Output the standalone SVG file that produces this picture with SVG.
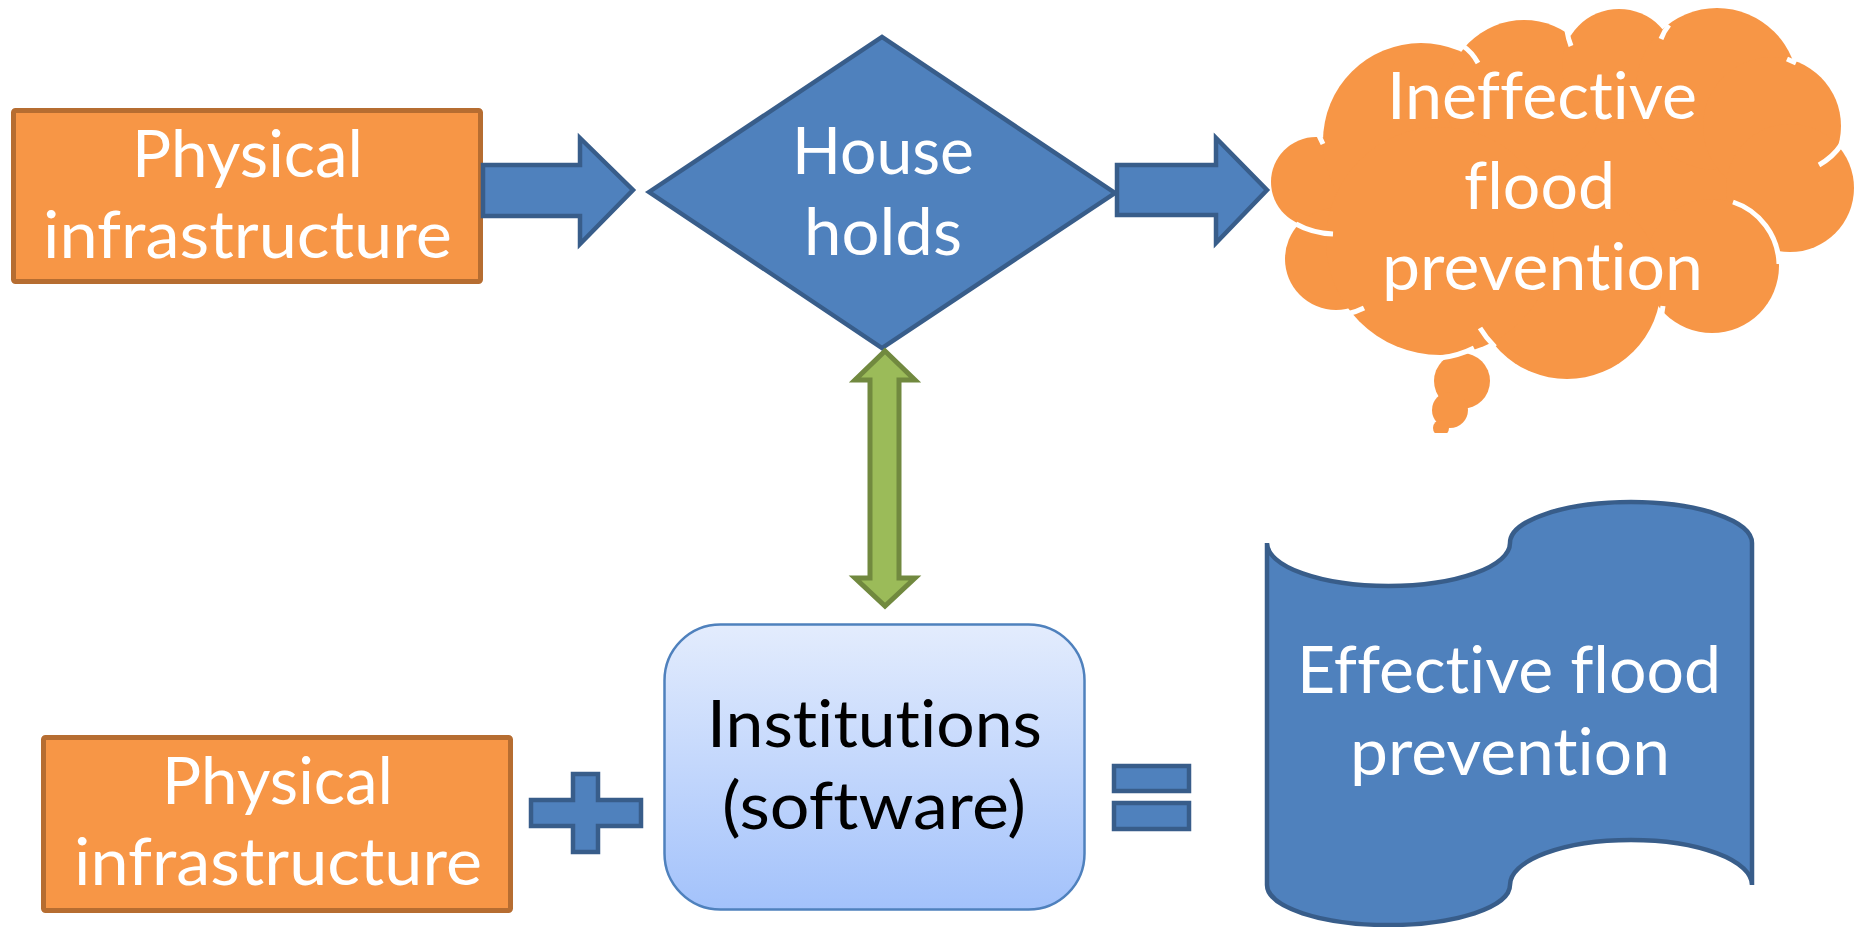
<svg xmlns="http://www.w3.org/2000/svg" width="1858" height="927" viewBox="0 0 1858 927">
  <defs>
    <style>
      .lbl { font-family: Lato, "Liberation Sans", sans-serif; font-size: 65px; fill: #FFFFFF; font-variant-ligatures: none; font-feature-settings: "liga" 0, "clig" 0, "dlig" 0; }
      .dark { fill: #000000; }
      .orangeBox { fill: #F79646; stroke: #B66D31; stroke-width: 5; }
      .blueShape { fill: #4F81BD; stroke: #385D8A; stroke-width: 4.5; stroke-linejoin: miter; }
      .greenShape { fill: #9BBB59; stroke: #71893F; stroke-width: 5; stroke-linejoin: miter; }
      .lobe { fill: #F79646; stroke: none; }
      .crease { fill: none; stroke: #FFFFFF; stroke-width: 5; stroke-linecap: butt; }
    </style>
    <linearGradient id="instGrad" x1="0" y1="0" x2="0" y2="1">
      <stop offset="0" stop-color="#E3ECFD"/>
      <stop offset="1" stop-color="#A3C2FB"/>
    </linearGradient>
    <clipPath id="bubbleClip">
      <rect x="1400" y="330" width="120" height="103"/>
    </clipPath>
  </defs>

  <!-- Node: Physical infrastructure (top) -->
  <g id="physical-top">
    <rect class="orangeBox" x="13.5" y="110.5" width="467" height="171" rx="2"/>
    <text class="lbl" x="132" y="177" textLength="231" lengthAdjust="spacingAndGlyphs">Physical</text>
    <text class="lbl" x="43" y="258" textLength="409" lengthAdjust="spacingAndGlyphs">infrastructure</text>
  </g>

  <!-- Node: Households (diamond) -->
  <g id="households">
    <polygon class="blueShape" points="649,192 882,37 1115,193 882,348"/>
    <text class="lbl" x="792" y="174" textLength="182" lengthAdjust="spacingAndGlyphs">House</text>
    <text class="lbl" x="804" y="255" textLength="158" lengthAdjust="spacingAndGlyphs">holds</text>
  </g>

  <!-- Node: Ineffective flood prevention (cloud) -->
  <g id="ineffective-cloud">
    <ellipse class="lobe" cx="1570" cy="190" rx="220" ry="120"/>
    <circle class="lobe" cx="1316" cy="182" r="45"/>
    <circle class="lobe" cx="1336" cy="259" r="51"/>
    <circle class="lobe" cx="1421" cy="141" r="98"/>
    <circle class="lobe" cx="1524" cy="98" r="78"/>
    <circle class="lobe" cx="1619" cy="66" r="57"/>
    <circle class="lobe" cx="1717" cy="89" r="81"/>
    <circle class="lobe" cx="1772" cy="126" r="69"/>
    <circle class="lobe" cx="1790" cy="188" r="64"/>
    <circle class="lobe" cx="1712" cy="266" r="67"/>
    <circle class="lobe" cx="1567" cy="285" r="94"/>
    <circle class="lobe" cx="1440" cy="241" r="114"/>
    <g clip-path="url(#bubbleClip)">
      <circle class="lobe" cx="1462" cy="381" r="28"/>
      <circle class="lobe" cx="1450" cy="410" r="18" stroke="#FFFFFF" stroke-width="4.5"/>
      <circle class="lobe" cx="1441" cy="428" r="8" stroke="#FFFFFF" stroke-width="4"/>
    </g>
    <path class="crease" d="M1318,133 Q1320,138 1323,144"/>
    <path class="crease" d="M1463,46 Q1472,52 1478,63"/>
    <path class="crease" d="M1567,31 Q1568,38 1571,46"/>
    <path class="crease" d="M1669,25 Q1664,31 1661,39"/>
    <path class="crease" d="M1787,59 L1796,63"/>
    <path class="crease" d="M1841,145 Q1833,157 1819,165"/>
    <path class="crease" d="M1733,202 A67,67 0 0 1 1779,264"/>
    <path class="crease" d="M1663,306 Q1662,316 1659,325"/>
    <path class="crease" d="M1480,328 Q1486,338 1495,347"/>
    <path class="crease" d="M1347,314 Q1356,312 1364,308"/>
    <path class="crease" d="M1296,224 Q1312,233 1333,234"/>
    <path class="crease" d="M1440,358 Q1458,356 1474,348"/>
    <text class="lbl" x="1387" y="119" textLength="310" lengthAdjust="spacingAndGlyphs">Ineffective</text>
    <text class="lbl" x="1464" y="209" textLength="151" lengthAdjust="spacingAndGlyphs">flood</text>
    <text class="lbl" x="1382" y="290" textLength="321" lengthAdjust="spacingAndGlyphs">prevention</text>
  </g>

  <!-- Node: Physical infrastructure (bottom) -->
  <g id="physical-bottom">
    <rect class="orangeBox" x="43.5" y="737.5" width="467" height="173" rx="2"/>
    <text class="lbl" x="162" y="804" textLength="231" lengthAdjust="spacingAndGlyphs">Physical</text>
    <text class="lbl" x="74" y="885" textLength="408" lengthAdjust="spacingAndGlyphs">infrastructure</text>
  </g>

  <!-- Node: plus sign -->
  <g id="plus">
    <polygon class="blueShape" points="573,774 598,774 598,800 641,800 641,826 598,826 598,852 573,852 573,826 531,826 531,800 573,800"/>
  </g>

  <!-- Node: Institutions (software) -->
  <g id="institutions">
    <rect x="664.5" y="624.5" width="420" height="285" rx="56" fill="url(#instGrad)" stroke="#4F81BD" stroke-width="2.5"/>
    <text class="lbl dark" x="707" y="747" textLength="335" lengthAdjust="spacingAndGlyphs">Institutions</text>
    <text class="lbl dark" x="722" y="829" textLength="304" lengthAdjust="spacingAndGlyphs">(software)</text>
  </g>

  <!-- Node: equals sign -->
  <g id="equals">
    <rect class="blueShape" x="1114" y="766" width="75" height="25"/>
    <rect class="blueShape" x="1114" y="803" width="75" height="26"/>
  </g>

  <!-- Node: Effective flood prevention (wave) -->
  <g id="effective-wave">
    <path class="blueShape" stroke-linejoin="round" d="M1267,543 A121.5,43 0 0 0 1510,543 A121,41 0 0 1 1752,543 L1752,885 A121,45 0 0 0 1510,885 A121.5,40 0 0 1 1267,885 Z"/>
    <text class="lbl" x="1297" y="693" textLength="424" lengthAdjust="spacingAndGlyphs">Effective flood</text>
    <text class="lbl" x="1350" y="775" textLength="320" lengthAdjust="spacingAndGlyphs">prevention</text>
  </g>

  <!-- Connectors -->
  <g id="connectors">
    <polygon id="arrow-physical-households" class="blueShape" points="483,165 580,165 580,138 633,190 580,244 580,216 483,216"/>
    <polygon id="arrow-households-cloud" class="blueShape" points="1117,165 1216,165 1216,138 1267,190 1216,243 1216,215 1117,215"/>
    <polygon id="arrow-households-institutions" class="greenShape" points="885,351 915,380 899,380 899,578 915,578 885,606 855,578 870,578 870,380 855,380"/>
  </g>
</svg>
